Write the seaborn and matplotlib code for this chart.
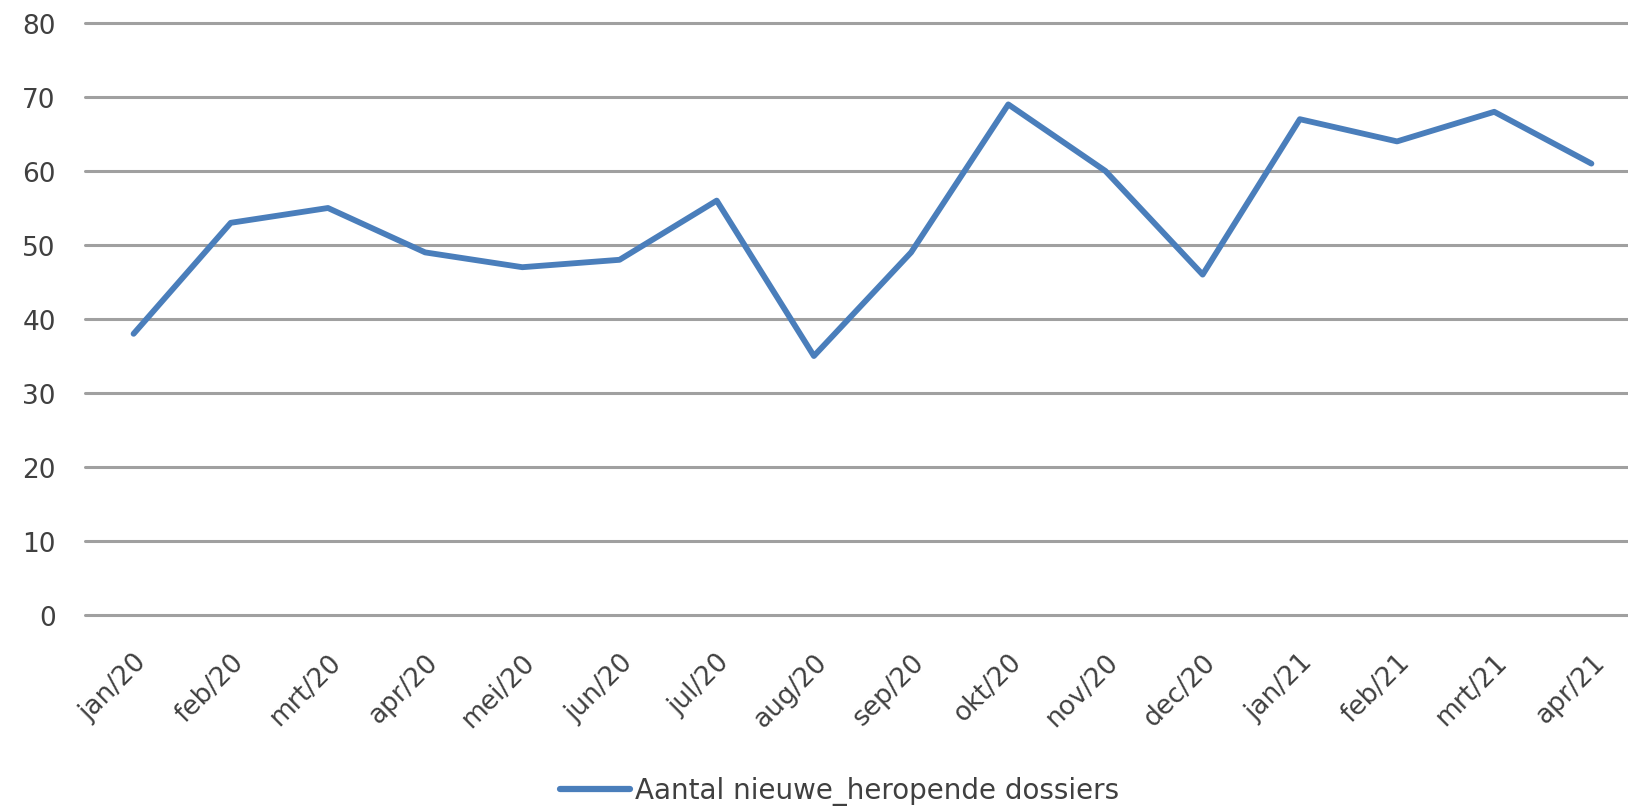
import matplotlib
matplotlib.use("Agg")
import matplotlib.pyplot as plt
import seaborn as sns
import pandas as pd

months = ["jan/20", "feb/20", "mrt/20", "apr/20", "mei/20", "jun/20", "jul/20", "aug/20",
          "sep/20", "okt/20", "nov/20", "dec/20", "jan/21", "feb/21", "mrt/21", "apr/21"]
values = [38, 53, 55, 49, 47, 48, 56, 35, 49, 69, 60, 46, 67, 64, 68, 61]
series_name = "Aantal nieuwe_heropende dossiers"
y_ticks = [0, 10, 20, 30, 40, 50, 60, 70, 80]

sns.set_theme(style="white")
plt.rcParams['font.family'] = ['DejaVu Sans']

df = pd.DataFrame({"maand": months, "aantal": values, "reeks": series_name})

W, H = 1628, 812
fig = plt.figure(figsize=(W / 100, H / 100), dpi=100)
left = 85 / W
right = 1640 / W
bottom = (H - 616) / H
top = (H - 24) / H
ax = fig.add_axes([left, bottom, right - left, top - bottom])

sns.lineplot(data=df, x="maand", y="aantal", hue="reeks", palette=["#4A7EBB"],
             linewidth=4.2, ax=ax, sort=False, legend=True)

ax.set_xlim(-0.5, len(months) - 0.5)
ax.set_ylim(0, 80)
ax.set_yticks(y_ticks)
ax.set_xticks(range(len(months)))
ax.set_xticklabels(months, rotation=45, ha="right", rotation_mode="anchor")
ax.yaxis.grid(True, color="#A0A0A0", linewidth=2.2)
ax.xaxis.grid(False)
ax.set_axisbelow(True)
for gl in ax.get_ygridlines():
    gl.set_clip_on(False)
for s in ax.spines.values():
    s.set_visible(False)
ax.tick_params(axis="y", labelsize=19, colors="#404040", pad=21, length=0)
ax.tick_params(axis="x", labelsize=19, colors="#404040", pad=24, length=0)
ax.set_xlabel("")
ax.set_ylabel("")

leg = ax.legend(loc="center", bbox_to_anchor=(0.516, 20 / H),
                bbox_transform=fig.transFigure, frameon=False, fontsize=20,
                handlelength=2.5, handletextpad=0.2)
for t in leg.get_texts():
    t.set_color("#404040")
for h in leg.get_lines():
    h.set_linewidth(4.5)

fig.savefig("out.png", dpi=100)
